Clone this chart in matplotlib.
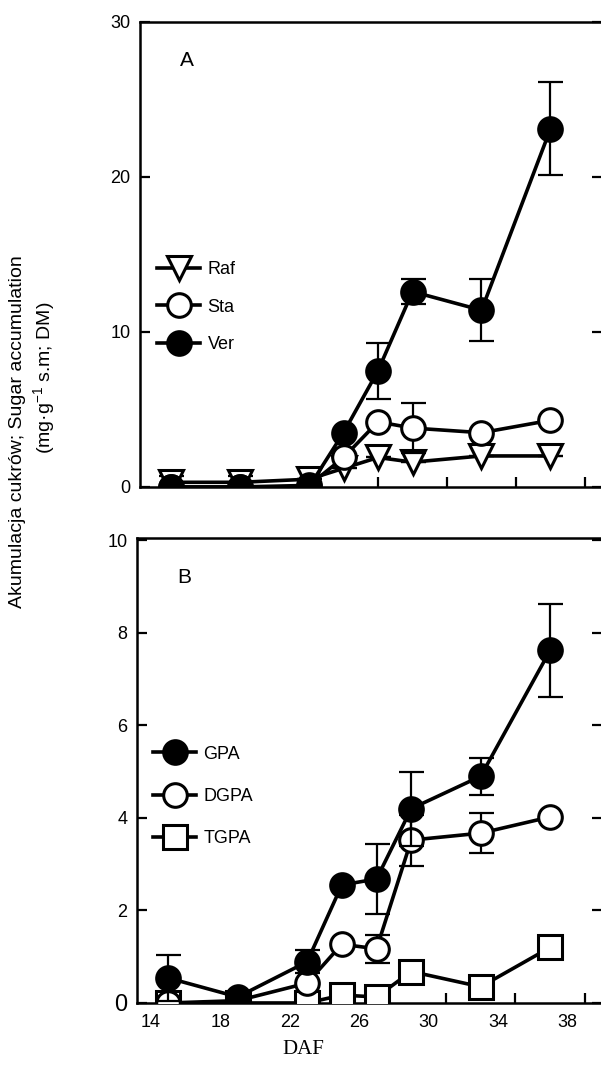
import matplotlib
matplotlib.use("Agg")
import matplotlib.pyplot as plt
import numpy as np

plt.rcParams['font.family'] = ['Liberation Sans', 'DejaVu Sans']
plt.rcParams['mathtext.default'] = 'regular'

# days after flowering
daf = [15, 19, 23, 25, 27, 29, 33, 37]

# panel A: raffinose, stachyose, verbascose
raf = [0.3, 0.3, 0.5, 1.2, 1.9, 1.6, 2.0, 2.0]
raf_err = [0.4, 0.4, 0, 0, 0, 0, 0, 0]
sta = [0.0, 0.0, 0.1, 1.9, 4.2, 3.8, 3.5, 4.3]
sta_err = [0, 0, 0, 0, 0, 1.6, 0, 0]
ver = [0.0, 0.0, 0.0, 3.5, 7.5, 12.6, 11.4, 23.1]
ver_err = [0, 0, 0, 0, 1.8, 0.8, 2.0, 3.0]

# panel B: galactopinitols
gpa = [0.54, 0.13, 0.89, 2.55, 2.68, 4.2, 4.9, 7.62]
gpa_err = [0.5, 0, 0.25, 0, 0.75, 0.8, 0.4, 1.0]
dgpa = [0.0, 0.05, 0.43, 1.27, 1.17, 3.52, 3.67, 4.02]
dgpa_err = [0, 0, 0, 0, 0.3, 0.55, 0.43, 0]
tgpa = [0.0, 0.0, 0.0, 0.17, 0.13, 0.68, 0.35, 1.2]

tick_pos = [15, 19, 23, 27, 31, 35, 39]
tick_lab = ['14', '18', '22', '26', '30', '34', '38']
lab_pos = [14, 18, 22, 26, 30, 34, 38]

fig = plt.figure(figsize=(6.01, 10.85), dpi=100)
axA = fig.add_axes([0.233, 0.5512, 0.769, 0.4286])
axB = fig.add_axes([0.228, 0.0756, 0.774, 0.4286])

lw = 2.6
ms = 17
mew = 2.2


def series(ax, y, err, marker, face, label, z):
    if err is not None and any(err):
        yerr = np.array(err, dtype=float)
        ax.errorbar(daf, y, yerr=yerr, fmt='none', ecolor='black',
                    elinewidth=1.6, capsize=9, capthick=1.6, zorder=z - 0.5)
    ax.plot(daf, y, color='black', lw=lw, marker=marker, ms=ms,
            mfc=face, mec='black', mew=mew, label=label, zorder=z)


series(axA, raf, raf_err, 'v', 'white', 'Raf', 3)
series(axA, sta, sta_err, 'o', 'white', 'Sta', 4)
series(axA, ver, ver_err, 'o', 'black', 'Ver', 5)

series(axB, tgpa, None, 's', 'white', 'TGPA', 3)
series(axB, dgpa, dgpa_err, 'o', 'white', 'DGPA', 4)
series(axB, gpa, gpa_err, 'o', 'black', 'GPA', 5)

for ax in (axA, axB):
    ax.set_xlim(13.2, 40.0)
    for s in ax.spines.values():
        s.set_linewidth(1.8)
    ax.set_xticks(tick_pos)
    ax.tick_params(axis='both', which='major', direction='in', length=7,
                   width=1.6, right=True, top=False, labelsize=13)
    ax.tick_params(axis='y', pad=7)

axA.set_ylim(0, 29.8)
axA.set_yticks([0, 10, 20, 30])
axA.set_xticklabels([])

axB.set_ylim(0, 10.05)
axB.set_yticks([0, 2, 4, 6, 8, 10])
axB.set_xticklabels([])
axB.set_xticks(lab_pos, minor=True)
axB.set_xticklabels(tick_lab, minor=True)
axB.tick_params(axis='x', which='minor', length=0, pad=8, labelsize=13)
axB.get_yticklabels()[0].set_fontsize(17)

axA.text(0.087, 0.916, 'A', transform=axA.transAxes, fontsize=15,
         ha='left', va='center')
axB.text(0.086, 0.916, 'B', transform=axB.transAxes, fontsize=15,
         ha='left', va='center')

# legends
hA, lA = axA.get_legend_handles_labels()
axA.legend(hA, lA, loc='upper left', bbox_to_anchor=(0.037, 0.486),
           frameon=False, fontsize=13, handlelength=2.4, handletextpad=0.4,
           labelspacing=1.15, borderpad=0, borderaxespad=0)
hB, lB = axB.get_legend_handles_labels()
axB.legend(hB[::-1], lB[::-1], loc='upper left', bbox_to_anchor=(0.034, 0.553),
           frameon=False, fontsize=13, handlelength=2.4, handletextpad=0.4,
           labelspacing=1.4, borderpad=0, borderaxespad=0)

fig.text(18 / 601, 1 - 432 / 1085, 'Akumulacja cukrów; Sugar accumulation',
         rotation=90, ha='center', va='center', fontsize=14)
fig.text(44 / 601, 1 - 378 / 1085, '(mg·g$^{-1}$ s.m; DM)', rotation=90,
         ha='center', va='center', fontsize=14)
fig.text(303 / 601, 1 - 1050 / 1085, 'DAF', ha='center', va='center',
         fontsize=15, family=['Liberation Serif', 'DejaVu Serif'])

fig.savefig('out.png', dpi=100)
